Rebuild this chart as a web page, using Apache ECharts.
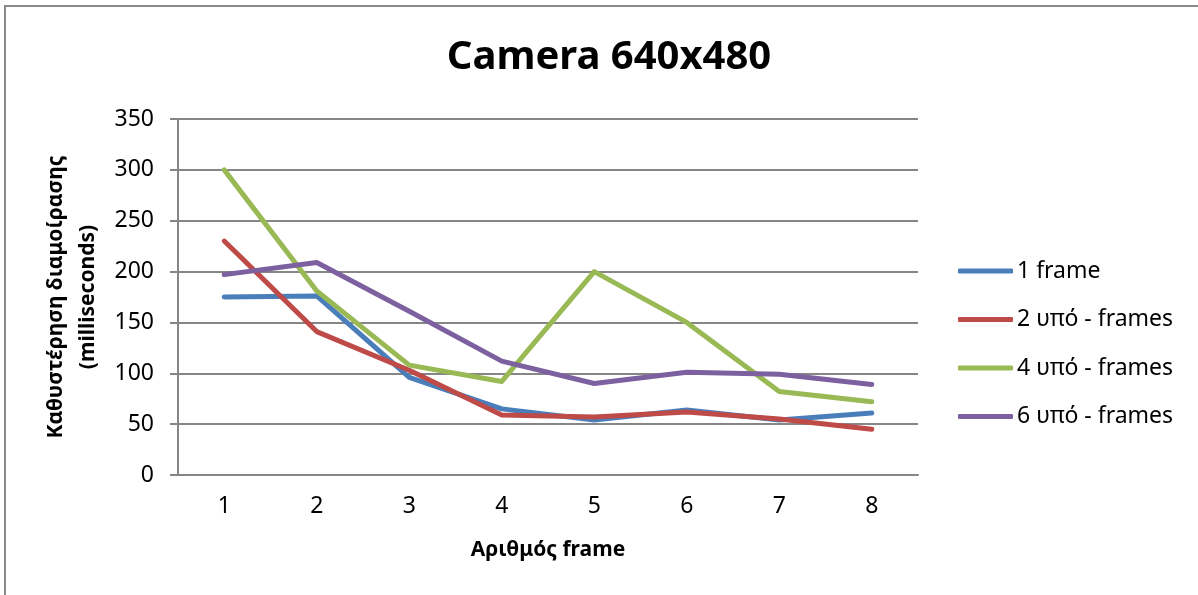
<!DOCTYPE html>
<html>
<head>
<meta charset="utf-8">
<script src="https://cdn.jsdelivr.net/npm/echarts@6/dist/echarts.min.js"></script>
<style>
  html, body { margin: 0; padding: 0; background: #fff; }
  #chart { width: 1198px; height: 595px; }
</style>
</head>
<body>
<div id="chart"></div>
<script>
// data
const frames = ["1", "2", "3", "4", "5", "6", "7", "8"];
const oneFrame = [175, 176, 96, 65, 54, 64, 54, 61];
const twoSub = [230, 141, 103, 59, 57, 62, 55, 45];
const fourSub = [300, 181, 108, 92, 200, 150, 82, 72];
const sixSub = [197, 209, 161, 112, 90, 101, 99, 89];
const seriesNames = ["1 frame", "2 υπό - frames", "4 υπό - frames", "6 υπό - frames"];
const colors = ["#4A7EBB", "#BE4B48", "#98B954", "#7D60A0"];

const FONT = "'Noto Sans', 'DejaVu Sans', sans-serif";
const GRID_GRAY = "#868686";

const chart = echarts.init(document.getElementById("chart"), null, { renderer: "canvas" });

function lineSeries(name, data, color) {
  return {
    name,
    type: "line",
    data,
    symbol: "none",
    color,
    lineStyle: { width: 5, color, cap: "round", join: "round" },
  };
}

chart.setOption({
  backgroundColor: "#fff",
  animation: false,
  title: {
    text: "Camera 640x480",
    left: 604,
    top: 33,
    textAlign: "center",
    textStyle: { fontFamily: FONT, fontSize: 40, fontWeight: "bold", color: "#000" },
  },
  graphic: [
    {
      type: "rect",
      shape: { x: 5, y: 6, width: 1300, height: 700 },
      style: { fill: "none", stroke: "#8a8a8a", lineWidth: 2 },
      silent: true,
    },
  ],
  grid: { left: 178, right: 280, top: 119, bottom: 120 },
  legend: {
    orient: "vertical",
    left: 958,
    top: 259,
    padding: 0,
    icon: "roundRect",
    itemWidth: 55,
    itemHeight: 5,
    itemGap: 24.5,
    textStyle: { fontFamily: FONT, fontSize: 23, lineHeight: 24, color: "#000", padding: [0, 0, 0, -1] },
    data: seriesNames,
  },
  xAxis: {
    type: "category",
    data: frames,
    boundaryGap: true,
    name: "Αριθμός frame",
    nameLocation: "middle",
    nameGap: 65,
    nameTextStyle: { fontFamily: FONT, fontSize: 21, fontWeight: "bold", color: "#000" },
    axisLine: { show: true, lineStyle: { color: GRID_GRAY, width: 2 } },
    axisTick: { show: false },
    axisLabel: { fontFamily: FONT, fontSize: 23, color: "#000", margin: 20 },
  },
  yAxis: {
    type: "value",
    min: 0,
    max: 350,
    interval: 50,
    name: "Καθυστέρηση διαμοίρασης\n(milliseconds)",
    nameLocation: "middle",
    nameGap: 73,
    nameTextStyle: { fontFamily: FONT, fontSize: 21, fontWeight: "bold", color: "#000", lineHeight: 32 },
    axisLine: { show: true, lineStyle: { color: GRID_GRAY, width: 2 } },
    axisTick: { show: true, length: 8, lineStyle: { color: GRID_GRAY, width: 2 } },
    axisLabel: { fontFamily: FONT, fontSize: 23, color: "#000", margin: 24 },
    splitLine: { show: true, lineStyle: { color: GRID_GRAY, width: 2 } },
  },
  series: [
    lineSeries(seriesNames[0], oneFrame, colors[0]),
    lineSeries(seriesNames[1], twoSub, colors[1]),
    lineSeries(seriesNames[2], fourSub, colors[2]),
    lineSeries(seriesNames[3], sixSub, colors[3]),
  ],
});
</script>
</body>
</html>
